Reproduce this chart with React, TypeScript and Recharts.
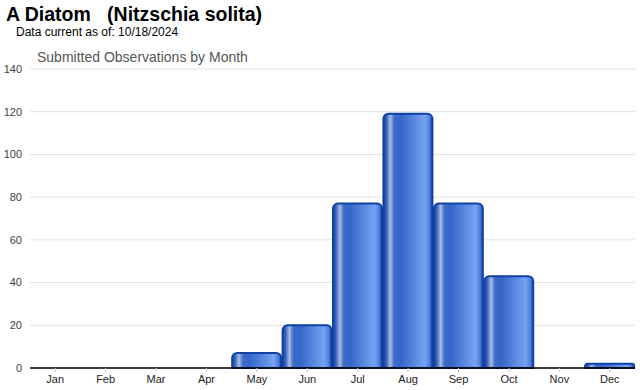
import { BarChart, Bar, XAxis, YAxis, CartesianGrid } from "recharts";

const MONTHS = ["Jan", "Feb", "Mar", "Apr", "May", "Jun", "Jul", "Aug", "Sep", "Oct", "Nov", "Dec"];
const OBSERVATIONS = [0, 0, 0, 0, 7, 20, 77, 119, 77, 43, 0, 2];
const Y_TICKS = [0, 20, 40, 60, 80, 100, 120, 140];

const data = MONTHS.map((month, i) => ({ month, count: OBSERVATIONS[i] }));

const FONT = "Arial, 'Liberation Sans', sans-serif";

export default function App() {
  return (
    <div style={{ position: "absolute", left: 0, top: 0, width: 640, height: 390, background: "#fff", fontFamily: FONT }}>
      <div style={{ position: "absolute", left: 6, top: 3, fontSize: 19.5, fontWeight: "bold", color: "#000", whiteSpace: "pre" }}>
        {"A Diatom   (Nitzschia solita)"}
      </div>
      <div style={{ position: "absolute", left: 16, top: 25, fontSize: 12, color: "#000" }}>Data current as of: 10/18/2024</div>
      <div style={{ position: "absolute", left: 37, top: 49, fontSize: 14, color: "#555" }}>Submitted Observations by Month</div>
      <BarChart
        width={640}
        height={390}
        data={data}
        margin={{ top: 69, right: 5, bottom: 0, left: 0 }}
        barCategoryGap="1%"
      >
        <defs>
          <linearGradient id="barGrad" x1="0" y1="0" x2="1" y2="0">
            <stop offset="0" stopColor="#1b48a6" />
            <stop offset="0.06" stopColor="#3462ba" />
            <stop offset="0.14" stopColor="#a9bde0" />
            <stop offset="0.22" stopColor="#3d6ccb" />
            <stop offset="0.35" stopColor="#3466c8" />
            <stop offset="0.85" stopColor="#76a3f2" />
            <stop offset="0.94" stopColor="#4f80de" />
            <stop offset="1" stopColor="#1a4aa8" />
          </linearGradient>
        </defs>
        <CartesianGrid horizontal vertical={false} stroke="#e3e3e3" />
        <XAxis
          dataKey="month"
          height={22}
          axisLine={{ stroke: "#000", strokeWidth: 1.5 }}
          tickLine={{ stroke: "#ccc" }}
          tickSize={4}
          tick={{ fontSize: 11, fill: "#222", fontFamily: FONT }}
          tickMargin={3}
        />
        <YAxis
          width={30}
          domain={[0, 140]}
          ticks={Y_TICKS}
          axisLine={false}
          tickLine={false}
          tick={{ fontSize: 11, fill: "#444", fontFamily: FONT }}
        />
        <Bar
          dataKey="count"
          fill="url(#barGrad)"
          stroke="#0f42a4"
          strokeWidth={2}
          radius={[5, 5, 0, 0]}
          isAnimationActive={false}
        />
      </BarChart>
    </div>
  );
}
